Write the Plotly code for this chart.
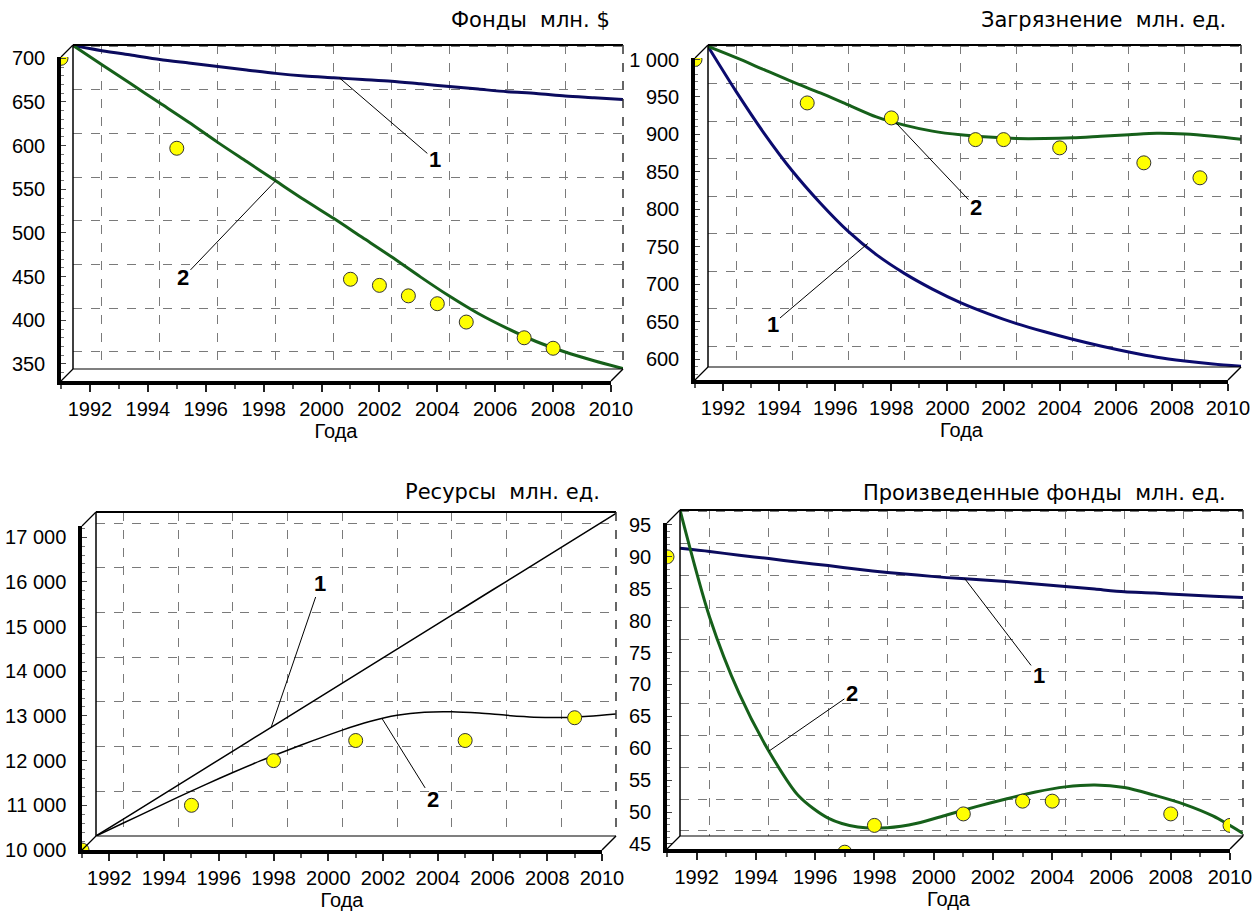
import plotly.graph_objects as go

W, H = 1260, 914

years = list(range(1991, 2011))

# ---- Panel 1: Фонды ----
fond_line1 = [701, 695, 690, 685, 681, 677, 673, 669, 666, 664, 662, 660, 657, 654, 651, 648, 646, 643, 641, 639]
fond_line2 = [701, 679, 657, 635, 613, 590, 568, 546, 524, 503, 481, 459, 436, 414, 394, 377, 362, 350, 340, 331]
fond_pts_x = [1991, 1995, 2001, 2002, 2003, 2004, 2005, 2007, 2008]
fond_pts_y = [700, 597, 447, 440, 428, 419, 398, 380, 368]

# ---- Panel 2: Загрязнение ----
pol_line1 = [1000, 940, 884, 834, 791, 753, 722, 697, 676, 658, 643, 630, 619, 609, 600, 592, 585, 580, 576, 573]
pol_line2 = [1000, 985, 969, 953, 938, 922, 906, 895, 887, 882, 879, 877, 877, 878, 880, 882, 884, 883, 880, 876]
pol_pts_x = [1991, 1995, 1998, 2001, 2002, 2004, 2007, 2009]
pol_pts_y = [1000, 942, 922, 893, 893, 882, 862, 842]

# ---- Panel 3: Ресурсы ----
res_line1 = [10000, 10380, 10760, 11140, 11520, 11900, 12280, 12660, 13040, 13420,
             13800, 14180, 14560, 14940, 15320, 15700, 16080, 16460, 16840, 17220]
res_line2 = [10000, 10290, 10580, 10870, 11150, 11420, 11680, 11920, 12150, 12370,
             12560, 12700, 12770, 12780, 12750, 12700, 12660, 12650, 12680, 12730]
res_pts_x = [1991, 1995, 1998, 2001, 2005, 2009]
res_pts_y = [10000, 11000, 12000, 12450, 12450, 12960]

# ---- Panel 4: Произведенные фонды ----
prod_line1 = [89.3, 88.8, 88.2, 87.7, 87.1, 86.6, 86.0, 85.5, 85.1, 84.7,
              84.4, 84.1, 83.7, 83.3, 82.9, 82.5, 82.3, 82.0, 81.8, 81.6]
prod_line2 = [95.3, 78.5, 66.5, 57.5, 50.5, 47.0, 45.6, 45.5, 46.2, 47.5,
              48.8, 50.0, 51.1, 51.9, 52.2, 51.8, 50.6, 49.2, 47.3, 44.6]
prod_pts_x = [1991, 1997, 1998, 2001, 2003, 2004, 2008, 2010]
prod_pts_y = [90, 43.7, 47.9, 49.7, 51.7, 51.7, 49.7, 47.9]

titles = ["Фонды\u00a0 млн. $", "Загрязнение\u00a0 млн. ед.",
          "Ресурсы\u00a0 млн. ед.", "Произведенные фонды\u00a0 млн. ед."]
xlabel = "Года"
year_ticks = list(range(1992, 2011, 2))

panels = [
    dict(bx=(73, 623), by=(45, 369), d=12, yr=(330.5, 701.5), ystep=50,
         l1=fond_line1, l2=fond_line2, px=fond_pts_x, py=fond_pts_y,
         c1="#0b0b5e", c2="#16601a", w=3, title_xy=(612, 20),
         ann=[("1", 2000.2, 664, 2003.5, 570), ("2", 1998.0, 546, 1994.8, 435)]),
    dict(bx=(708, 1241), by=(45, 367), d=13, yr=(572, 1002), ystep=50,
         l1=pol_line1, l2=pol_line2, px=pol_pts_x, py=pol_pts_y,
         c1="#0b0b6e", c2="#16601a", w=3, title_xy=(1228, 20),
         ann=[("1", 1996.7, 737, 1993.3, 629), ("2", 1997.7, 898, 2000.55, 785)]),
    dict(bx=(96, 616), by=(512, 836), d=14, yr=(10000, 17250), ystep=1000,
         l1=res_line1, l2=res_line2, px=res_pts_x, py=res_pts_y,
         c1="#000000", c2="#000000", w=1.5, title_xy=(602, 492),
         ann=[("1", 1997.4, 12432, 1999.2, 15661), ("2", 2001.45, 12630, 2003.3, 10806)]),
    dict(bx=(680, 1243), by=(510, 836), d=13, yr=(44.2, 95.3), ystep=5,
         l1=prod_line1, l2=prod_line2, px=prod_pts_x, py=prod_pts_y,
         c1="#0b0b5e", c2="#16601a", w=3, title_xy=(1228, 493),
         ann=[("1", 2000.6, 84.6, 2003.1, 69.4), ("2", 1994.0, 57.5, 1996.8, 66.5)]),
]

FONT = "Liberation Sans, Arial, sans-serif"
TFONT = "DejaVu Sans, Liberation Sans, sans-serif"


def fx(px):
    return px / W


def fy(py):
    return 1 - py / H


fig = go.Figure()
layout = dict(width=W, height=H, margin=dict(l=0, r=0, t=0, b=0, pad=0), autosize=False,
              paper_bgcolor="white", plot_bgcolor="rgba(0,0,0,0)",
              showlegend=False, separators=". ",
              font=dict(family=FONT, size=20, color="black"))
shapes = []
annotations = []

for i, p in enumerate(panels):
    b = 2 * i + 1
    f = 2 * i + 2
    bx0, bx1 = p["bx"]
    by0, by1 = p["by"]
    d = p["d"]
    fx0, fx1 = bx0 - d, bx1 - d
    fy0, fy1 = by0 + d, by1 + d
    ymin, ymax = p["yr"]

    layout[f"xaxis{b}"] = dict(domain=[fx(bx0), fx(bx1)], anchor=f"y{b}", range=[1991, 2010],
                               showgrid=True, gridcolor="#7a7a7a", griddash="dash", gridwidth=1,
                               tick0=1992, dtick=2, showticklabels=False, ticks="",
                               zeroline=False, showline=False, fixedrange=True, automargin=False)
    layout[f"yaxis{b}"] = dict(domain=[fy(by1), fy(by0)], anchor=f"x{b}", range=[ymin, ymax],
                               showgrid=True, gridcolor="#7a7a7a", griddash="dash", gridwidth=1,
                               tick0=0, dtick=p["ystep"], showticklabels=False, ticks="",
                               zeroline=False, showline=False, fixedrange=True, automargin=False)
    layout[f"xaxis{f}"] = dict(domain=[fx(fx0), fx(fx1)], anchor=f"y{f}", range=[1991, 2010],
                               showgrid=False, tickvals=year_ticks, ticks="outside", ticklen=7,
                               tickwidth=1.5, tickcolor="#222",
                               minor=dict(dtick=1, tick0=1991, ticks="outside", ticklen=4,
                                          tickcolor="#555", showgrid=False),
                               showline=True, linewidth=3.5, linecolor="black",
                               tickfont=dict(size=20, family=FONT),
                               title=dict(text=xlabel, font=dict(size=20, family=FONT), standoff=6),
                               zeroline=False, fixedrange=True, automargin=False)
    layout[f"yaxis{f}"] = dict(domain=[fy(fy1), fy(fy0)], anchor=f"x{f}", range=[ymin, ymax],
                               showgrid=False, tick0=0, dtick=p["ystep"], ticks="inside", ticklen=5,
                               tickcolor="#444", tickformat=",d",
                               minor=dict(dtick=p["ystep"] / 5, ticks="inside", ticklen=3,
                                          tickcolor="#777", showgrid=False),
                               showline=True, linewidth=3.5, linecolor="black",
                               tickfont=dict(size=20, family=FONT), ticklabelstandoff=8,
                               zeroline=False, fixedrange=True, automargin=False)

    fig.add_trace(go.Scatter(x=years, y=p["l1"], mode="lines", xaxis=f"x{b}", yaxis=f"y{b}",
                             line=dict(color=p["c1"], width=p["w"], shape="spline", smoothing=0.8),
                             cliponaxis=False, hoverinfo="skip"))
    fig.add_trace(go.Scatter(x=years, y=p["l2"], mode="lines", xaxis=f"x{b}", yaxis=f"y{b}",
                             line=dict(color=p["c2"], width=p["w"], shape="spline", smoothing=0.8),
                             cliponaxis=False, hoverinfo="skip"))
    fig.add_trace(go.Scatter(x=p["px"], y=p["py"], mode="markers", xaxis=f"x{f}", yaxis=f"y{f}",
                             marker=dict(symbol="circle", size=14, color="#ffff00",
                                         line=dict(color="#333", width=1)),
                             cliponaxis=True, hoverinfo="skip"))

    def ln(x0, y0, x1, y1, w=1, color="black", dash="solid"):
        shapes.append(dict(type="line", xref="paper", yref="paper",
                           x0=fx(x0), y0=fy(y0), x1=fx(x1), y1=fy(y1),
                           line=dict(color=color, width=w, dash=dash), layer="above"))

    ln(bx0, by0, bx0, by1, 1.5)
    ln(bx0, by0, bx1, by0, 2)
    ln(bx1, by0, bx1, by1, 1.5, "#333", "dash")
    ln(bx0, by1, bx1, by1, 1.2)
    ln(fx0, fy0, bx0, by0, 1.2)
    ln(fx0, fy1, bx0, by1, 1.2)
    ln(fx1, fy1, bx1, by1, 1.5)

    tx, ty = p["title_xy"]
    annotations.append(dict(text=titles[i], xref="paper", yref="paper", x=fx(tx), y=fy(ty),
                            xanchor="right", yanchor="middle", showarrow=False,
                            font=dict(size=21, family=TFONT, color="black")))
    for txt, hx, hy, tx_, ty_ in p["ann"]:
        annotations.append(dict(text=f"<b>{txt}</b>", xref=f"x{b}", yref=f"y{b}",
                                axref=f"x{b}", ayref=f"y{b}", x=hx, y=hy, ax=tx_, ay=ty_,
                                showarrow=True, arrowhead=0, arrowwidth=1, arrowcolor="black",
                                font=dict(size=22, family=FONT, color="black")))

layout["shapes"] = shapes
layout["annotations"] = annotations
fig.update_layout(**layout)
fig.write_html("out.html", config={"displayModeBar": False},
               post_script="document.body.style.margin='0';document.body.style.overflow='hidden';")
